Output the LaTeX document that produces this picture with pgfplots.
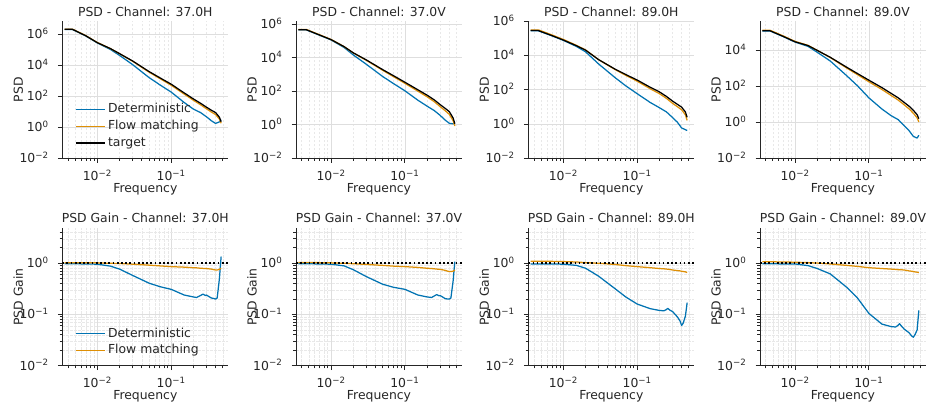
\documentclass[border=0pt]{standalone}
\usepackage{fontspec}
\setmainfont{DejaVu Sans}
\usepackage{pgfplots}
\usepackage{pgfplotstable}
\pgfplotsset{compat=1.18}
\definecolor{cblue}{HTML}{0173B2}
\definecolor{corange}{HTML}{DE8F05}
\definecolor{txt}{HTML}{262626}
\newcommand{\fs}{\fontsize{12.4}{15}\selectfont}

% PSD tables: f target deterministic flow
\pgfplotstableread{
f T D F
0.0036 2.09e6 2.05e6 2.15e6
0.0046 2.09e6 2.05e6 2.15e6
0.007 7.94e5 7.70e5 8.10e5
0.01 2.88e5 2.76e5 2.94e5
0.015 1.20e5 1.06e5 1.20e5
0.02 5.62e4 4.33e4 5.56e4
0.03 1.91e4 1.11e4 1.83e4
0.05 3981 1632 3663
0.07 1585 555 1411
0.1 603 187 519
0.15 166 39.8 139
0.2 67.6 14.9 55.4
0.25 35.5 8.9 28.4
0.3 20.0 4.8 15.8
0.35 12.6 2.65 9.7
0.4 8.91 1.78 6.59
0.45 4.47 2.24 3.4
0.475 2.29 3.09 1.83
}\psdA
\pgfplotstableread{
f T D F
0.0036 4.57e5 4.48e5 4.75e5
0.0046 4.57e5 4.48e5 4.75e5
0.007 2.19e5 2.12e5 2.26e5
0.01 1.17e5 1.12e5 1.19e5
0.015 4.47e4 3.98e4 4.47e4
0.02 1.91e4 1.43e4 1.87e4
0.03 7240 3980 6880
0.05 1910 745 1740
0.07 832 283 732
0.1 339 105 292
0.15 120 28.8 99.6
0.2 57.5 12.7 46
0.25 30.2 6.95 23.6
0.3 15.8 3.63 12
0.35 9.55 1.91 6.97
0.4 6.03 1.21 4.16
0.45 2.51 1.13 1.76
0.475 1.15 1.24 0.85
}\psdB
\pgfplotstableread{
f T D F
0.0036 2.75e5 2.67e5 3.03e5
0.0046 2.75e5 2.67e5 3.03e5
0.007 1.41e5 1.37e5 1.54e5
0.01 7.76e4 7.45e4 8.38e4
0.015 3.63e4 3.30e4 3.85e4
0.02 2.0e4 1.6e4 2.06e4
0.03 5620 3150 5620
0.05 1580 506 1500
0.07 759 167 683
0.1 363 58.1 312
0.15 138 17.9 113
0.2 74.1 8.89 58.5
0.25 39.8 4.98 30.6
0.3 21.9 2.41 16.2
0.35 14.1 1.27 10.2
0.4 9.55 0.583 6.69
0.45 5.01 0.466 3.41
0.475 2.45 0.417 1.62
}\psdC
\pgfplotstableread{
f T D F
0.0036 1.17e5 1.15e5 1.25e5
0.0046 1.17e5 1.15e5 1.25e5
0.007 5.62e4 5.45e4 5.96e4
0.01 2.88e4 2.79e4 3.02e4
0.015 1.78e4 1.60e4 1.83e4
0.02 9550 7540 9650
0.03 3980 2470 3860
0.05 1120 381 1020
0.07 501 105 436
0.1 214 22.5 175
0.15 83.2 5.41 65.7
0.2 39.8 2.31 30.6
0.25 22.4 1.39 16.8
0.3 12.6 0.655 9.32
0.35 7.76 0.341 5.51
0.4 4.57 0.165 3.15
0.45 2.63 0.132 1.76
0.475 1.58 0.19 1.04
}\psdD

% Gain tables: f deterministic flow
\pgfplotstableread{
f D F
0.0036 0.98 1.03
0.0046 0.98 1.03
0.007 0.97 1.02
0.01 0.96 1.02
0.015 0.88 1.00
0.02 0.77 0.99
0.03 0.58 0.96
0.05 0.41 0.92
0.07 0.35 0.89
0.1 0.31 0.86
0.15 0.24 0.84
0.2 0.22 0.82
0.22 0.215 0.815
0.25 0.235 0.80
0.27 0.25 0.795
0.29 0.235 0.79
0.3 0.24 0.79
0.35 0.21 0.77
0.38 0.205 0.75
0.4 0.20 0.74
0.42 0.21 0.74
0.45 0.5 0.76
0.475 1.35 0.8
}\gainA
\pgfplotstableread{
f D F
0.0036 0.98 1.04
0.0046 0.98 1.04
0.007 0.97 1.03
0.01 0.96 1.02
0.015 0.89 1.00
0.02 0.75 0.98
0.03 0.55 0.95
0.05 0.39 0.91
0.07 0.34 0.88
0.1 0.31 0.86
0.15 0.24 0.83
0.2 0.22 0.80
0.23 0.215 0.79
0.25 0.23 0.78
0.27 0.245 0.77
0.29 0.232 0.765
0.3 0.235 0.76
0.35 0.205 0.73
0.38 0.2 0.70
0.4 0.2 0.69
0.42 0.21 0.69
0.45 0.45 0.70
0.475 1.08 0.74
}\gainB
\pgfplotstableread{
f D F
0.0036 0.97 1.10
0.0046 0.97 1.10
0.007 0.97 1.09
0.01 0.96 1.08
0.015 0.91 1.06
0.02 0.80 1.03
0.03 0.56 1.00
0.05 0.32 0.95
0.07 0.22 0.90
0.1 0.16 0.86
0.15 0.13 0.82
0.2 0.12 0.79
0.23 0.118 0.78
0.25 0.125 0.77
0.26 0.132 0.765
0.28 0.12 0.755
0.3 0.115 0.74
0.35 0.09 0.72
0.38 0.075 0.71
0.4 0.061 0.70
0.42 0.068 0.69
0.45 0.093 0.68
0.475 0.17 0.66
}\gainC
\pgfplotstableread{
f D F
0.0036 0.98 1.07
0.0046 0.98 1.07
0.007 0.97 1.06
0.01 0.97 1.05
0.015 0.90 1.03
0.02 0.79 1.01
0.03 0.62 0.97
0.05 0.34 0.91
0.07 0.21 0.87
0.1 0.105 0.82
0.15 0.065 0.79
0.2 0.058 0.77
0.23 0.057 0.76
0.25 0.062 0.75
0.26 0.066 0.75
0.28 0.058 0.745
0.3 0.052 0.74
0.35 0.044 0.71
0.38 0.038 0.70
0.4 0.036 0.69
0.42 0.04 0.68
0.45 0.05 0.67
0.475 0.12 0.66
}\gainD

\pgfplotsset{
  every axis/.append style={
    scale only axis, width=166pt, height=137.3pt,
    axis lines=left, axis line style={-, draw=txt, line width=0.8pt},
    tick align=outside, tick style={draw=txt, line width=0.8pt},
    major tick length=4.5pt, minor tick length=2.6pt,
    xtick={0.01,0.1}, xticklabels={10\textsuperscript{−2},10\textsuperscript{−1}},
    minor xtick={0.004,0.005,0.006,0.007,0.008,0.009,0.02,0.03,0.04,0.05,0.06,0.07,0.08,0.09,0.2,0.3,0.4,0.5},
    xmajorgrids, xminorgrids, ymajorgrids,
    major grid style={draw=black!13, line width=0.6pt},
    minor grid style={draw=black!9, line width=0.5pt, dash pattern=on 2.5pt off 1.5pt},
    xticklabel style={font=\fs, text=txt, anchor=base, inner sep=0pt, yshift=-17.7pt},
    yticklabel style={font=\fs, text=txt, anchor=base east, inner sep=0pt, xshift=-9pt, yshift=-4.5pt},
    every axis title shift=0pt,
    title style={at={(axis description cs:0.5,1)}, anchor=base, inner sep=0pt, text=txt, font=\fs},
    xlabel style={anchor=base, inner sep=0pt, text=txt, font=\fs},
    ylabel style={at={(axis description cs:-0.237,0.5)}, anchor=base, inner sep=0pt, text=txt, font=\fs},
    legend cell align=left,
    legend image code/.code={\draw[#1] (0pt,0pt) -- (25pt,0pt); \path (25pt,0pt) -- (29.5pt,0pt);},
    legend style={draw=none, fill=none, inner sep=0pt, font=\fs, text=txt, row sep=0pt,
      nodes={inner sep=2.2pt, text height=9.5pt, text depth=3pt}},
  },
}
\tikzset{
  detst/.style={cblue, line width=1.25pt, line join=round},
  flowst/.style={corange, line width=1.25pt, line join=round},
  tgtst/.style={black, line width=1.25pt, line join=round},
  onest/.style={black, line width=1.7pt, dash pattern=on 1.7pt off 2.5pt},
}

\begin{document}
\begin{tikzpicture}
\useasboundingbox (0,0) rectangle (931pt,407pt);

% ---------- top row ----------
\begin{axis}[at={(62.3pt,248.7pt)}, anchor=south west,
  xmode=log, ymode=log, xmin=0.00335, xmax=0.594, ymin=0.01, ymax=7.2e6,
  yminorticks=false,
  ytick={0.01,1,100,10000,1000000},
  yticklabels={10\textsuperscript{−2},10\textsuperscript{0},10\textsuperscript{2},10\textsuperscript{4},10\textsuperscript{6}},
  title={PSD - Channel: 37.0H}, title style={yshift=4.4pt},
  xlabel={Frequency}, xlabel style={at={(axis description cs:0.5,-0.2505)}},
  ylabel={PSD},
  legend style={at={(axis description cs:0.076,0.048)}, anchor=south west}]
\addplot[detst] table[x=f,y=D] {\psdA};
\addlegendentry{Deterministic}
\addplot[flowst] table[x=f,y=F] {\psdA};
\addlegendentry{Flow matching}
\addplot[tgtst] table[x=f,y=T] {\psdA};
\addlegendentry{target}
\end{axis}

\begin{axis}[at={(296pt,248.7pt)}, anchor=south west,
  xmode=log, ymode=log, xmin=0.00335, xmax=0.594, ymin=0.01, ymax=1.5e6,
  yminorticks=false,
  ytick={0.01,1,100,10000,1000000},
  yticklabels={10\textsuperscript{−2},10\textsuperscript{0},10\textsuperscript{2},10\textsuperscript{4},10\textsuperscript{6}},
  title={PSD - Channel: 37.0V}, title style={yshift=4.4pt},
  xlabel={Frequency}, xlabel style={at={(axis description cs:0.5,-0.2505)}},
  ylabel={PSD}]
\addplot[detst] table[x=f,y=D] {\psdB};
\addplot[flowst] table[x=f,y=F] {\psdB};
\addplot[tgtst] table[x=f,y=T] {\psdB};
\end{axis}

\begin{axis}[at={(528.3pt,248.7pt)}, anchor=south west,
  xmode=log, ymode=log, xmin=0.00335, xmax=0.594, ymin=0.01, ymax=1.0e6,
  yminorticks=false,
  ytick={0.01,1,100,10000,1000000},
  yticklabels={10\textsuperscript{−2},10\textsuperscript{0},10\textsuperscript{2},10\textsuperscript{4},10\textsuperscript{6}},
  title={PSD - Channel: 89.0H}, title style={yshift=4.4pt},
  xlabel={Frequency}, xlabel style={at={(axis description cs:0.5,-0.2505)}},
  ylabel={PSD}]
\addplot[detst] table[x=f,y=D] {\psdC};
\addplot[flowst] table[x=f,y=F] {\psdC};
\addplot[tgtst] table[x=f,y=T] {\psdC};
\end{axis}

\begin{axis}[at={(760pt,248.7pt)}, anchor=south west,
  xmode=log, ymode=log, xmin=0.00335, xmax=0.594, ymin=0.01, ymax=4.1e5,
  yminorticks=false,
  ytick={0.01,1,100,10000},
  yticklabels={10\textsuperscript{−2},10\textsuperscript{0},10\textsuperscript{2},10\textsuperscript{4}},
  title={PSD - Channel: 89.0V}, title style={yshift=4.4pt},
  xlabel={Frequency}, xlabel style={at={(axis description cs:0.5,-0.2505)}},
  ylabel={PSD}]
\addplot[detst] table[x=f,y=D] {\psdD};
\addplot[flowst] table[x=f,y=F] {\psdD};
\addplot[tgtst] table[x=f,y=T] {\psdD};
\end{axis}

% ---------- bottom row ----------
\begin{axis}[at={(62.3pt,41.3pt)}, anchor=south west,
  xmode=log, ymode=log, xmin=0.00335, xmax=0.594, ymin=0.01, ymax=4.8,
  ytick={0.01,0.1,1}, yticklabels={10\textsuperscript{−2},10\textsuperscript{−1},10\textsuperscript{0}},
  minor ytick={0.02,0.03,0.04,0.05,0.06,0.07,0.08,0.09,0.2,0.3,0.4,0.5,0.6,0.7,0.8,0.9,2,3,4},
  yminorgrids,
  title={PSD Gain - Channel: 37.0H}, title style={yshift=5.4pt},
  xlabel={Frequency}, xlabel style={at={(axis description cs:0.5,-0.244)}},
  ylabel={PSD Gain},
  legend style={at={(axis description cs:0.076,0.046)}, anchor=south west}]
\addplot[detst] table[x=f,y=D] {\gainA};
\addlegendentry{Deterministic}
\addplot[flowst] table[x=f,y=F] {\gainA};
\addlegendentry{Flow matching}
\addplot[onest, forget plot] coordinates {(0.00335,1) (0.594,1)};
\end{axis}

\begin{axis}[at={(296pt,41.3pt)}, anchor=south west,
  xmode=log, ymode=log, xmin=0.00335, xmax=0.594, ymin=0.01, ymax=4.8,
  ytick={0.01,0.1,1}, yticklabels={10\textsuperscript{−2},10\textsuperscript{−1},10\textsuperscript{0}},
  minor ytick={0.02,0.03,0.04,0.05,0.06,0.07,0.08,0.09,0.2,0.3,0.4,0.5,0.6,0.7,0.8,0.9,2,3,4},
  yminorgrids,
  title={PSD Gain - Channel: 37.0V}, title style={yshift=5.4pt},
  xlabel={Frequency}, xlabel style={at={(axis description cs:0.5,-0.244)}},
  ylabel={PSD Gain}]
\addplot[detst] table[x=f,y=D] {\gainB};
\addplot[flowst] table[x=f,y=F] {\gainB};
\addplot[onest, forget plot] coordinates {(0.00335,1) (0.594,1)};
\end{axis}

\begin{axis}[at={(528.3pt,41.3pt)}, anchor=south west,
  xmode=log, ymode=log, xmin=0.00335, xmax=0.594, ymin=0.01, ymax=4.8,
  ytick={0.01,0.1,1}, yticklabels={10\textsuperscript{−2},10\textsuperscript{−1},10\textsuperscript{0}},
  minor ytick={0.02,0.03,0.04,0.05,0.06,0.07,0.08,0.09,0.2,0.3,0.4,0.5,0.6,0.7,0.8,0.9,2,3,4},
  yminorgrids,
  title={PSD Gain - Channel: 89.0H}, title style={yshift=5.4pt},
  xlabel={Frequency}, xlabel style={at={(axis description cs:0.5,-0.244)}},
  ylabel={PSD Gain}]
\addplot[detst] table[x=f,y=D] {\gainC};
\addplot[flowst] table[x=f,y=F] {\gainC};
\addplot[onest, forget plot] coordinates {(0.00335,1) (0.594,1)};
\end{axis}

\begin{axis}[at={(760pt,41.3pt)}, anchor=south west,
  xmode=log, ymode=log, xmin=0.00335, xmax=0.594, ymin=0.01, ymax=4.8,
  ytick={0.01,0.1,1}, yticklabels={10\textsuperscript{−2},10\textsuperscript{−1},10\textsuperscript{0}},
  minor ytick={0.02,0.03,0.04,0.05,0.06,0.07,0.08,0.09,0.2,0.3,0.4,0.5,0.6,0.7,0.8,0.9,2,3,4},
  yminorgrids,
  title={PSD Gain - Channel: 89.0V}, title style={yshift=5.4pt},
  xlabel={Frequency}, xlabel style={at={(axis description cs:0.5,-0.244)}},
  ylabel={PSD Gain}]
\addplot[detst] table[x=f,y=D] {\gainD};
\addplot[flowst] table[x=f,y=F] {\gainD};
\addplot[onest, forget plot] coordinates {(0.00335,1) (0.594,1)};
\end{axis}
\end{tikzpicture}
\end{document}
